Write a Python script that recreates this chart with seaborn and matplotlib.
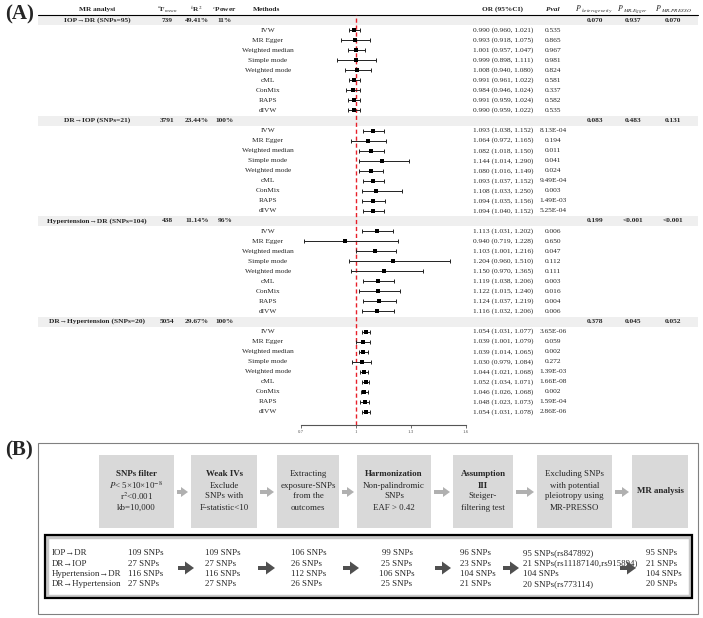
import matplotlib
matplotlib.use('Agg')
import matplotlib.pyplot as plt
from matplotlib.patches import Rectangle, FancyArrow
import seaborn as sns
import pandas as pd

sns.set_style('white')
plt.rcParams['font.family'] = ['Liberation Serif', 'DejaVu Serif']
plt.rcParams['mathtext.fontset'] = 'stix'

# ---- panel A data
groups = ['IOP→DR (SNPs=95)', 'DR→IOP (SNPs=21)',
          'Hypertension→DR (SNPs=104)', 'DR→Hypertension (SNPs=20)']
f_mean = ['739', '3791', '438', '5054']
r2 = ['49.41%', '23.44%', '11.14%', '29.67%']
power = ['11%', '100%', '96%', '100%']
p_het = ['0.070', '0.083', '0.199', '0.378']
p_egger = ['0.937', '0.483', '<0.001', '0.045']
p_presso = ['0.070', '0.131', '<0.001', '0.052']
methods = ['IVW', 'MR Egger', 'Weighted median', 'Simple mode', 'Weighted mode',
           'cML', 'ConMix', 'RAPS', 'dIVW']

or_iop_dr = [0.990, 0.993, 1.001, 0.999, 1.008, 0.991, 0.984, 0.991, 0.990]
lo_iop_dr = [0.960, 0.918, 0.957, 0.898, 0.940, 0.961, 0.946, 0.959, 0.959]
hi_iop_dr = [1.021, 1.075, 1.047, 1.111, 1.080, 1.022, 1.024, 1.024, 1.022]
pv_iop_dr = ['0.535', '0.865', '0.967', '0.981', '0.824', '0.581', '0.337', '0.582', '0.535']

or_dr_iop = [1.093, 1.064, 1.082, 1.144, 1.080, 1.093, 1.108, 1.094, 1.094]
lo_dr_iop = [1.038, 0.972, 1.018, 1.014, 1.016, 1.037, 1.033, 1.035, 1.040]
hi_dr_iop = [1.152, 1.165, 1.150, 1.290, 1.149, 1.152, 1.250, 1.156, 1.152]
pv_dr_iop = ['8.13E-04', '0.194', '0.011', '0.041', '0.024', '9.49E-04', '0.003', '1.49E-03', '5.25E-04']

or_ht_dr = [1.113, 0.940, 1.103, 1.204, 1.150, 1.119, 1.122, 1.124, 1.116]
lo_ht_dr = [1.031, 0.719, 1.001, 0.960, 0.970, 1.038, 1.015, 1.037, 1.032]
hi_ht_dr = [1.202, 1.228, 1.216, 1.510, 1.365, 1.206, 1.240, 1.219, 1.206]
pv_ht_dr = ['0.006', '0.650', '0.047', '0.112', '0.111', '0.003', '0.016', '0.004', '0.006']

or_dr_ht = [1.054, 1.039, 1.039, 1.030, 1.044, 1.052, 1.046, 1.048, 1.054]
lo_dr_ht = [1.031, 1.001, 1.014, 0.979, 1.021, 1.034, 1.026, 1.023, 1.031]
hi_dr_ht = [1.077, 1.079, 1.065, 1.084, 1.068, 1.071, 1.068, 1.073, 1.078]
pv_dr_ht = ['3.65E-06', '0.059', '0.002', '0.272', '1.39E-03', '1.66E-08', '0.002', '1.59E-04', '2.86E-06']

or_all = [or_iop_dr, or_dr_iop, or_ht_dr, or_dr_ht]
lo_all = [lo_iop_dr, lo_dr_iop, lo_ht_dr, lo_dr_ht]
hi_all = [hi_iop_dr, hi_dr_iop, hi_ht_dr, hi_dr_ht]
pv_all = [pv_iop_dr, pv_dr_iop, pv_ht_dr, pv_dr_ht]
or_ticks = [0.7, 1, 1.3, 1.6]

# ---- panel B data
pairs = ['IOP→DR', 'DR→IOP', 'Hypertension→DR', 'DR→Hypertension']
n_filter = [109, 27, 116, 27]
n_weak = [109, 27, 116, 27]
n_extract = [106, 26, 112, 26]
n_harmon = [99, 25, 106, 25]
n_steiger = [96, 23, 104, 21]
n_presso = ['95 SNPs(rs847892)', '21 SNPs(rs11187140,rs915894)', '104 SNPs', '20 SNPs(rs773114)']
n_final = [95, 21, 104, 20]
steps = [
    [('SNPs filter', True), (r'$P$< 5×10×10$^{-8}$', False), ('r$^2$<0.001', False), ('kb=10,000', False)],
    [('Weak IVs', True), ('Exclude', False), ('SNPs with', False), ('F-statistic<10', False)],
    [('Extracting', False), ('exposure-SNPs', False), ('from the', False), ('outcomes', False)],
    [('Harmonization', True), ('Non-palindromic', False), ('SNPs', False), ('EAF > 0.42', False)],
    [('Assumption', True), ('III', True), ('Steiger-', False), ('filtering test', False)],
    [('Excluding SNPs', False), ('with potential', False), ('pleiotropy using', False), ('MR-PRESSO', False)],
    [('MR analysis', True)],
]

# long table for the forest plot
rows = []
for g in range(4):
    for m in range(9):
        rows.append({'y': 20 + (g * 10 + 1 + m) * 10.05, 'OR': or_all[g][m],
                     'lo': lo_all[g][m], 'hi': hi_all[g][m]})
df = pd.DataFrame(rows)

W, H = 703, 618
fig = plt.figure(figsize=(W / 100, H / 100), dpi=100)
cv = fig.add_axes([0, 0, 1, 1])
cv.set_xlim(0, W)
cv.set_ylim(H, 0)
cv.axis('off')

fs = 5.3
cv.text(5, 14, '(A)', fontsize=15, fontweight='bold', va='center')
cv.plot([38, 698], [15, 15], color='black', lw=0.8)

hy = 9.5
cv.text(97, hy, 'MR analysi', fontsize=fs, fontweight='bold', ha='center', va='center')
cv.text(167, hy, r'$^{a}$F$_{mean}$', fontsize=fs, fontweight='bold', ha='center', va='center')
cv.text(196, hy, r'$^{b}$R$^{2}$', fontsize=fs, fontweight='bold', ha='center', va='center')
cv.text(224, hy, r'$^{c}$Power', fontsize=fs, fontweight='bold', ha='center', va='center')
cv.text(267, hy, 'Methods', fontsize=fs, fontweight='bold', ha='center', va='center')
cv.text(503, hy, 'OR (95%CI)', fontsize=fs, fontweight='bold', ha='center', va='center')
cv.text(553, hy, 'Pval', fontsize=fs, fontweight='bold', style='italic', ha='center', va='center')
cv.text(594, hy, r'$P_{\ heterogeneity}$', fontsize=fs + 0.3, ha='center', va='center')
cv.text(633, hy, r'$P_{\ MR\text{-}Egger}$', fontsize=fs + 0.3, ha='center', va='center')
cv.text(673, hy, r'$P_{\ MR\text{-}PRESSO}$', fontsize=fs + 0.3, ha='center', va='center')

for g in range(4):
    y = 20 + g * 10 * 10.05
    cv.add_patch(Rectangle((38, y - 5), 660, 10, color='#efefef', lw=0, zorder=0))
    kw = dict(fontsize=fs, fontweight='bold', ha='center', va='center')
    cv.text(97, y, groups[g], **kw)
    cv.text(167, y, f_mean[g], **kw)
    cv.text(197, y, r2[g], **kw)
    cv.text(225, y, power[g], **kw)
    cv.text(595, y, p_het[g], **kw)
    cv.text(633, y, p_egger[g], **kw)
    cv.text(673, y, p_presso[g], **kw)
    for m in range(9):
        ym = y + (1 + m) * 10.05
        cv.text(268, ym, methods[m], fontsize=fs, ha='center', va='center')
        cv.text(503, ym, f'{or_all[g][m]:.3f} ({lo_all[g][m]:.3f}, {hi_all[g][m]:.3f})',
                fontsize=fs, ha='center', va='center')
        cv.text(553, ym, pv_all[g][m], fontsize=fs, ha='center', va='center')

# forest axes, y in pixel units
ax = fig.add_axes([301 / W, 1 - 425 / H, 165 / W, 410 / H])
ax.set_facecolor('none')
ax.set_xlim(0.7, 1.6)
ax.set_ylim(425, 15)
ax.axvline(1, color='#e8202a', ls=(0, (3, 2)), lw=1, zorder=1)
ax.errorbar(df['OR'], df['y'], xerr=[df['OR'] - df['lo'], df['hi'] - df['OR']],
            fmt='none', ecolor='#222222', elinewidth=0.7, capsize=1.6, capthick=0.7, zorder=2)
sns.scatterplot(data=df, x='OR', y='y', marker='s', s=9, color='black',
                edgecolor='black', linewidth=0, ax=ax, zorder=3, legend=False)
ax.set_ylim(425, 15)
ax.set_xlabel('')
ax.set_ylabel('')
ax.set_yticks([])
ax.set_xticks(or_ticks)
ax.set_xticklabels(['0.7', '1', '1.3', '1.6'], fontsize=3.5, color='#555555')
for s in ['top', 'left', 'right']:
    ax.spines[s].set_visible(False)
ax.spines['bottom'].set_color('#555555')
ax.spines['bottom'].set_linewidth(0.8)
ax.tick_params(axis='x', length=2, width=0.6, pad=1.5, color='#555555', bottom=True)

# ---- panel B
fb = 6.4
cv.text(5, 450, '(B)', fontsize=15, fontweight='bold', va='center')
cv.add_patch(Rectangle((38, 443), 660, 171, fill=False, ec='#808080', lw=0.8))

boxes = [(99, 174), (191, 257), (277, 339), (357, 431), (453, 513), (537, 612), (632, 688)]
for (x0, x1), lines in zip(boxes, steps):
    cv.add_patch(Rectangle((x0, 455), x1 - x0, 73, color='#d9d9d9', lw=0))
    n = len(lines)
    for i, (t, bold) in enumerate(lines):
        yy = 491 + (i - (n - 1) / 2) * 11
        cv.text((x0 + x1) / 2, yy, t, fontsize=fb, ha='center', va='center',
                fontweight='bold' if bold else 'normal')
for (_, a), (b, _) in zip(boxes[:-1], boxes[1:]):
    cv.add_patch(FancyArrow(a + 3, 492, b - a - 6, 0, width=4, head_width=10,
                            head_length=7, length_includes_head=True, color='#b0b0b0', lw=0))

cv.add_patch(Rectangle((47, 537), 643, 59, fill=False, ec='#c8c8c8', lw=2.5))
cv.add_patch(Rectangle((45, 535), 647, 63, fill=False, ec='black', lw=1.6))
ry = [553, 563.5, 574, 584.5]
cols = [(52, pairs, 'left'),
        (128, [f'{v} SNPs' for v in n_filter], 'left'),
        (205, [f'{v} SNPs' for v in n_weak], 'left'),
        (291, [f'{v} SNPs' for v in n_extract], 'left'),
        (397, [f'{v} SNPs' for v in n_harmon], 'center'),
        (460, [f'{v} SNPs' for v in n_steiger], 'left'),
        (523, n_presso, 'left'),
        (646, [f'{v} SNPs' for v in n_final], 'left')]
for x, vals, ha in cols:
    for yy, t in zip(ry, vals):
        cv.text(x, yy, t, fontsize=fb, ha=ha, va='center')
for a, b in [(178, 194), (258, 275), (343, 359), (435, 451), (503, 519), (620, 636)]:
    cv.add_patch(FancyArrow(a, 568, b - a, 0, width=4, head_width=13, head_length=9,
                            length_includes_head=True, color='#505050', lw=0, zorder=5))

fig.savefig('out.png', dpi=100)
